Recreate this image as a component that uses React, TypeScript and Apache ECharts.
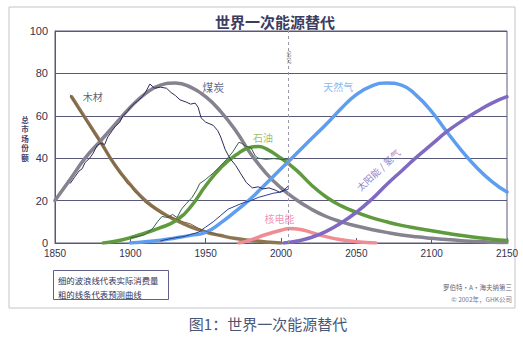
import React, { useEffect, useRef } from "react";
import * as echarts from "echarts";

// Forecast (thick) curves: [year, share %]
const woodForecast = [[1861,69],[1870,59],[1880,48],[1890,36.5],[1900,27.5],[1910,20],[1920,14.8],[1930,10.8],[1940,7.6],[1950,5.2],[1960,3.5],[1970,2.1],[1980,1.2],[1990,0.5],[2000,0]];
const coalForecast = [[1850,20],[1860,30],[1870,40],[1880,48],[1890,56],[1900,64],[1910,70.5],[1920,74.5],[1930,75.5],[1940,73.5],[1950,69],[1960,62],[1970,53],[1980,42],[1990,33],[2000,26],[2010,20.5],[2020,16],[2030,12.5],[2040,10],[2050,8],[2060,6.4],[2070,5],[2080,3.8],[2090,2.9],[2100,2.2],[2110,1.6],[2120,1.1],[2130,0.7],[2140,0.4],[2150,0.2]];
const oilForecast = [[1882,0],[1890,0.8],[1900,2.5],[1910,4.8],[1920,7.2],[1930,10.5],[1940,17],[1950,27],[1960,35.5],[1970,41.5],[1980,45.2],[1985,45.5],[1990,44.5],[2000,40],[2010,34.5],[2020,27.5],[2030,21.7],[2040,17.5],[2050,14.5],[2060,12],[2070,10],[2080,8.3],[2090,7],[2100,5.8],[2110,4.6],[2120,3.5],[2130,2.6],[2140,1.8],[2150,1.2]];
const gasForecast = [[1900,0],[1910,0.6],[1920,1.3],[1930,2.4],[1940,3.6],[1950,5],[1960,9.5],[1970,15],[1980,21],[1990,28],[2000,35],[2010,42],[2020,49],[2030,56],[2040,63.5],[2050,70],[2060,74],[2070,75.5],[2080,74.5],[2090,69.5],[2100,62],[2110,52.5],[2120,43.5],[2130,35.5],[2140,29],[2150,24]];
const nuclearForecast = [[1972,0],[1980,1.5],[1990,4],[2000,6],[2006,6.8],[2012,6.5],[2020,5],[2030,3],[2040,1.5],[2050,0.6],[2063,0]];
const solarForecast = [[2002,0],[2010,0.8],[2020,2.6],[2030,5.5],[2040,9.5],[2050,14.5],[2060,20.5],[2070,27.5],[2080,34],[2090,40.5],[2100,46.5],[2110,52.5],[2120,57.5],[2130,62],[2140,66],[2150,69]];

// Actual consumption (thin, wavy) lines
const woodActual = [[1860,70],[1865,64],[1870,58.5],[1875,53],[1880,47.5],[1885,42],[1890,36.5],[1893,33],[1895,32],[1898,28],[1900,27.5],[1903,24],[1905,23.5],[1910,19],[1915,17],[1920,14],[1925,12.5],[1930,11.5],[1935,10],[1940,9],[1945,7],[1950,5.5],[1955,4.5],[1960,3.5]];
const coalActual = [[1860,28],[1863,31],[1866,34],[1868,35],[1870,38],[1873,40],[1875,42],[1878,46],[1880,47],[1883,46.5],[1885,50],[1888,53],[1890,55],[1893,57],[1895,60],[1898,62],[1900,64],[1903,66],[1905,67],[1908,69],[1910,71],[1913,75],[1916,73],[1920,73.5],[1924,73],[1927,71],[1930,69.5],[1933,67.5],[1937,66.5],[1940,65.5],[1943,66],[1945,64],[1947,59],[1950,57],[1955,55.5],[1958,53],[1960,50],[1963,44],[1966,40],[1970,36.5],[1973,33],[1977,28.5],[1981,26],[1985,26.5],[1988,25.5],[1992,26],[1996,25],[1999,24],[2002,25],[2005,27]];
const oilActual = [[1900,2.5],[1905,3],[1910,4],[1915,7],[1918,10],[1921,12.5],[1925,12],[1928,13.5],[1931,12],[1934,16],[1937,18.5],[1941,21.5],[1944,25],[1946,28],[1950,30],[1955,33],[1960,36.5],[1964,39.5],[1968,43],[1972,47.5],[1974,47],[1977,45.5],[1980,45],[1983,41],[1985,40],[1990,39.5],[1995,39.8],[2000,39.5],[2005,39.5]];
const gasActual = [[1920,1],[1925,1.8],[1930,2.5],[1935,3],[1940,4],[1945,5],[1950,7.5],[1955,10],[1960,13],[1965,16],[1970,17.5],[1975,19],[1980,20],[1985,21.5],[1990,22.5],[1995,23.5],[2000,24],[2005,25.5]];

const curveNames = ["木材", "煤炭", "石油", "天然气", "核电能", "太阳能 / 氢气"];
const markerYear = 2005;
const legendLines = ["细的波浪线代表实际消费量", "粗的线条代表预测曲线"];
const titleText = "世界一次能源替代";
const yNameChars = ["总", "市", "场", "份", "额"];
const credits = ["罗伯特·A·海夫纳第三", "© 2002年，GHK公司"];
const captionText = "图1：世界一次能源替代";

const CJK = '"Noto Sans CJK SC", "Noto Sans", sans-serif';
const NUM = '"Liberation Sans", Arial, sans-serif';
const AXC = "#585878";

export default function App() {
  const ref = useRef<HTMLDivElement>(null);
  useEffect(() => {
    if (!ref.current) return;
    const chart = echarts.init(ref.current, null, { renderer: "svg" });
    const thick = (name: string, data: number[][], color: string, z = 2) => ({
      name, type: "line", data, smooth: true, showSymbol: false, silent: true, z,
      lineStyle: { width: 3.5, color, cap: "round" }, itemStyle: { color },
    });
    const thin = (name: string, data: number[][], color: string) => ({
      name, type: "line", data, smooth: false, showSymbol: false, silent: true, z: 5,
      lineStyle: { width: 1, color }, itemStyle: { color },
    });
    const lbl = (text: string, x: number, y: number, color: string, size: number, rotate = 0) => ({
      value: [x, y], name: text,
      label: { show: true, position: "inside", formatter: "{b}", color, fontSize: size, fontFamily: CJK, rotate },
    });
    const yNameTexts = yNameChars.map((ch, i) => ({
      type: "text", x: 25, y: 119 + i * 9.5,
      style: { text: ch, font: `bold 7.5px ${CJK}`, fill: "#40406a", align: "center", verticalAlign: "middle" },
    }));
    chart.setOption({
      animation: false,
      backgroundColor: "#ffffff",
      grid: { left: 55, top: 31, width: 452, height: 212, show: true, borderColor: AXC, borderWidth: 1, backgroundColor: "#fff" },
      xAxis: {
        type: "value", min: 1850, max: 2150, interval: 50,
        axisLine: { show: true, lineStyle: { color: AXC, width: 1 } },
        axisTick: { show: true, inside: true, length: 5, lineStyle: { color: AXC } },
        axisLabel: { color: "#333350", fontSize: 10, fontFamily: NUM, margin: 5, formatter: (v: number) => String(v) },
        splitLine: { show: false },
      },
      yAxis: {
        type: "value", min: 0, max: 100, interval: 20,
        axisLine: { show: true, lineStyle: { color: AXC, width: 1 } },
        axisTick: { show: false },
        axisLabel: { color: "#333350", fontSize: 11, fontFamily: NUM, margin: 7 },
        splitLine: { show: true, lineStyle: { color: AXC, width: 1 } },
      },
      series: [
        {
          ...thick(curveNames[0], woodForecast, "#8e7552"),
          markLine: {
            silent: true, symbol: "none", label: { show: false },
            lineStyle: { type: [3, 3], color: "#9a9aa6", width: 1 },
            data: [{ xAxis: markerYear }],
          },
        },
        thick(curveNames[1], coalForecast, "#86828f"),
        thick(curveNames[2], oilForecast, "#5f9b3e"),
        thick(curveNames[3], gasForecast, "#5d9ef0"),
        thick(curveNames[4], nuclearForecast, "#ef8c94"),
        thick(curveNames[5], solarForecast, "#8069c2"),
        thin("wood-actual", woodActual, "#7a6040"),
        thin("coal-actual", coalActual, "#2c2d5c"),
        thin("oil-actual", oilActual, "#36604a"),
        thin("gas-actual", gasActual, "#2b3f92"),
        {
          type: "scatter", silent: true, z: 6, symbolSize: 1,
          itemStyle: { color: "rgba(0,0,0,0)" },
          data: [
            lbl(curveNames[0], 1875, 69, "#333340", 10),
            lbl(curveNames[1], 1955, 73.5, "#3a3a5c", 11),
            lbl(curveNames[2], 1988, 50, "#86b03a", 10),
            lbl(curveNames[3], 2038, 74, "#6aa6ea", 10),
            lbl(curveNames[4], 1999, 11.7, "#ea78a6", 10),
            lbl(curveNames[5], 2064.5, 34.5, "#6e5fb8", 9.5, 43),
            {
              value: [markerYear, 87.5], name: String(markerYear),
              label: { show: true, position: "inside", formatter: "{b}", color: "#555", fontSize: 6, fontFamily: NUM, rotate: 90 },
            },
          ],
        },
      ],
      graphic: [
        { type: "rect", z: -10, shape: { x: 9, y: 7, width: 506, height: 301 }, style: { fill: "none", stroke: "#c4c4cc", lineWidth: 1 } },
        { type: "text", x: 275, y: 21, style: { text: titleText, font: `bold 15px ${CJK}`, fill: "#3c3c5e", align: "center", verticalAlign: "middle" } },
        ...yNameTexts,
        { type: "rect", shape: { x: 53.5, y: 270.5, width: 115, height: 29 }, style: { fill: "#fff", stroke: "#60608a", lineWidth: 1 } },
        { type: "text", x: 58, y: 280, style: { text: legendLines[0], font: `8.4px ${CJK}`, fill: "#333355", verticalAlign: "middle" } },
        { type: "text", x: 58, y: 294, style: { text: legendLines[1], font: `8.4px ${CJK}`, fill: "#333355", verticalAlign: "middle" } },
        { type: "text", x: 512, y: 287, style: { text: credits[0], font: `6.5px ${CJK}`, fill: "#666677", align: "right", verticalAlign: "middle" } },
        { type: "text", x: 512, y: 299, style: { text: credits[1], font: `6.5px ${CJK}`, fill: "#777788", align: "right", verticalAlign: "middle" } },
        { type: "text", x: 268, y: 323, style: { text: captionText, font: `15px ${CJK}`, fill: "#4a5678", align: "center", verticalAlign: "middle" } },
      ],
    });
    return () => chart.dispose();
  }, []);
  return <div ref={ref} style={{ position: "absolute", left: 0, top: 0, width: 523, height: 342 }} />;
}
